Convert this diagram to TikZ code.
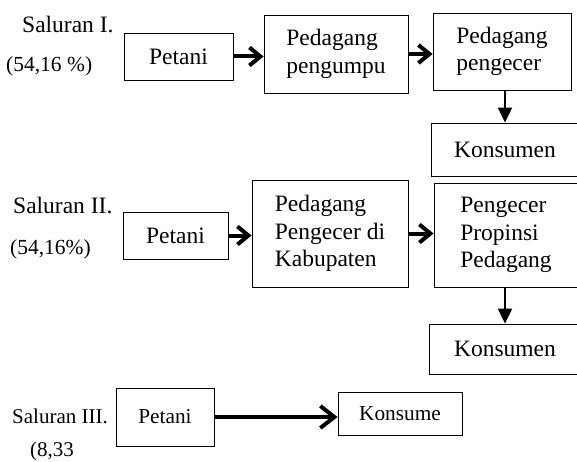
\documentclass[tikz,border=0pt]{standalone}
\usepackage{fontspec}
\setmainfont{Liberation Serif}
\usetikzlibrary{arrows.meta}
\usetikzlibrary{positioning}

\begin{document}
\begin{tikzpicture}[x=1pt, y=-1pt,
    box/.style={draw, line width=0.8pt, inner sep=0pt, align=left, font=\fontsize{23.5}{27.5}\selectfont},
    smallbox/.style={box, font=\fontsize{21.3}{25}\selectfont},
    saluran/.style={anchor=base west, inner sep=0pt, font=\fontsize{23.5}{27.5}\selectfont},
    persen/.style={anchor=base west, inner sep=0pt, font=\fontsize{21.5}{25}\selectfont},
    flow/.style={-{Straight Barb[length=11pt,width=18pt]}, line width=4pt},
    longflow/.style={-{Straight Barb[length=14pt,width=22pt]}, line width=4pt},
    down/.style={-{Triangle[length=15pt,width=14pt]}, line width=2pt}]

            \useasboundingbox (0,0) rectangle (577,462);
            \clip (0,0) rectangle (577,462);

            \draw (22,33)   node[saluran]                                        (s1) {Saluran I.};
            \draw (6,72)    node[persen]                                         (q1) {(54,16 \%)};
            \draw (178.5,56.5) node[box, minimum width=109, minimum height=47]   (p1) {Petani};
            \draw (336,54)  node[box, minimum width=144, minimum height=78]      (pp) {Pedagang\\pengumpu};
            \draw (502,51.5) node[box, minimum width=138, minimum height=77]     (pe) {Pedagang\\pengecer};
            \draw (505,149.5) node[box, minimum width=148, minimum height=53]    (k1) {Konsumen};
            \draw[flow] (p1.east) -- (p1.east -| pp.west);
            \draw[flow] (pp.east) -- (pp.east -| pe.west);
            \draw[down] (k1.north |- pe.south) -- (k1.north);

            \draw (13,213)  node[saluran]                                        (s2) {Saluran II.};
            \draw (10,254)  node[persen]                                         (q2) {(54,16\%)};
            \draw (175.5,235.5) node[box, minimum width=105, minimum height=47]  (p2) {Petani};
            \draw (330,233.5) node[box, minimum width=156, minimum height=107]   (kb) {Pedagang\\Pengecer di\\Kabupaten};
            \draw (506,235) node[box, minimum width=144, minimum height=104]     (pr) {Pengecer\\Propinsi\\Pedagang};
            \draw (505,349) node[box, minimum width=152, minimum height=50]      (k2) {Konsumen};
            \draw[flow] (p2.east) -- (p2.east -| kb.west);
            \draw[flow] (kb.east) -- (kb.east -| pr.west);
            \draw[down] (k2.north |- pr.south) -- (k2.north);

            \draw (12,423)  node[saluran, font=\fontsize{21}{25}\selectfont]     (s3) {Saluran III.};
            \draw (30,456)  node[persen, font=\fontsize{21}{25}\selectfont]      (q3) {(8,33};
            \draw (165,417) node[smallbox, minimum width=98, minimum height=58]  (p3) {Petani};
            \draw (400,413.5) node[smallbox, minimum width=124, minimum height=43] (k3) {Konsume};
            \draw[longflow] (p3.east) -- (p3.east -| k3.west);

\end{tikzpicture}
\end{document}
